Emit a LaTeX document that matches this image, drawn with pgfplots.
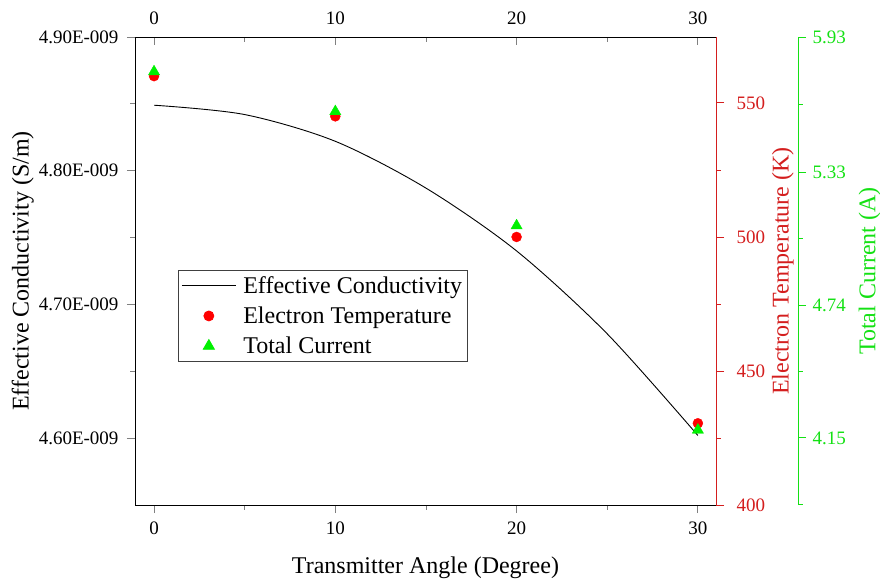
\documentclass[border=0pt]{standalone}
\usepackage{fontspec}
\setmainfont{Liberation Serif}
\usepackage{pgfplots}
\pgfplotsset{compat=1.18}
\definecolor{axred}{RGB}{212,30,30}
\definecolor{axgreen}{RGB}{20,225,20}
\definecolor{mkred}{RGB}{255,0,0}
\definecolor{mkgreen}{RGB}{0,240,0}

\pgfplotsset{
  frame/.style={
    scale only axis, width=581pt, height=468pt,
    xmin=-1.05, xmax=31,
    anchor=south west,
    scaled ticks=false,
    /pgf/number format/assume math mode=true,
    tick label style={font=\fontsize{19}{23}\selectfont},
    label style={font=\fontsize{24}{28}\selectfont},
    major tick length=8pt, minor tick length=4.5pt,
    tick style={line width=0.9pt},
    axis line style={line width=1pt},
    clip=false,
  },
}

\begin{document}
\begin{tikzpicture}
\useasboundingbox (0,0) rectangle (880pt,-584pt);

% left axis, bottom axis, conductivity curve
\begin{axis}[frame, at={(135pt,-505pt)},
  axis x line*=bottom, axis y line*=left,
  tick align=outside,
  xtick={0,10,20,30}, minor xtick={5,15,25},
  xticklabel style={yshift=-5pt},
  ymin=4.55e-9, ymax=4.90e-9,
  ytick={4.6e-9,4.7e-9,4.8e-9,4.9e-9},
  yticklabels={4.60E-009,4.70E-009,4.80E-009,4.90E-009},
  yticklabel style={xshift=-5pt},
  minor ytick={4.65e-9,4.75e-9,4.85e-9},
  xlabel={Transmitter Angle (Degree)},
  xlabel style={yshift=-16pt},
  ylabel={Effective Conductivity (S/m)},
  ylabel style={yshift=-2pt},
]
\addplot[black, line width=0.9pt, smooth, no marks] coordinates {
  (0,4.849e-9) (5,4.842e-9) (10,4.822e-9) (15,4.787e-9)
  (20,4.740e-9) (25,4.678e-9) (30,4.602e-9)};
\end{axis}

% red right axis, top axis, electron temperature
\begin{axis}[frame, at={(135pt,-505pt)},
  axis x line*=top, axis y line*=right,
  xtick align=inside, ytick align=outside,
  xtick={0,10,20,30}, minor xtick={5,15,25},
  xticklabel style={yshift=9pt},
  ymin=400, ymax=574.6,
  ytick={400,450,500,550}, minor ytick={425,475,525},
  y axis line style={axred},
  ytick style={axred},
  yticklabel style={axred, xshift=9pt},
  ylabel={Electron Temperature (K)},
  ylabel style={axred},
]
\addplot[only marks, mark=*, mark size=5pt, mkred] coordinates {
  (0,560) (10,545) (20,500) (30,430.5)};
\end{axis}

% total current data + legend
\begin{axis}[frame, at={(135pt,-505pt)},
  hide axis,
  ymin=3.852, ymax=5.93,
  legend style={at={(axis description cs:0.074,0.502)}, anchor=north west,
    draw=black!75, fill=white, line width=0.8pt,
    font=\fontsize{24}{29}\selectfont, inner xsep=3pt, inner ysep=4pt,
    row sep=8pt, column sep=5pt},
  legend cell align=left,
  legend image code/.code={\draw[mark repeat=2,mark phase=2,#1]
    plot coordinates {(0pt,0pt) (27pt,0pt) (54pt,0pt)};},
]
\addlegendimage{black, line width=0.9pt, no marks}
\addlegendentry{Effective Conductivity}
\addlegendimage{only marks, mark=*, mark size=5pt, mkred}
\addlegendentry{Electron Temperature}
\addplot[only marks, mark=triangle*, mark size=6.5pt, mkgreen] coordinates {
  (0,5.776) (10,5.599) (20,5.092) (30,4.185)};
\addlegendentry{Total Current}
\end{axis}

% green offset axis
\begin{axis}[frame, at={(217pt,-505pt)},
  axis x line=none, axis y line*=right,
  ytick align=outside,
  ymin=3.852, ymax=5.93,
  ytick={4.15,4.74,5.33,5.93},
  yticklabels={4.15,4.74,5.33,5.93},
  minor ytick={3.855,4.445,5.035,5.63},
  y axis line style={axgreen},
  ytick style={axgreen},
  yticklabel style={axgreen, xshift=3pt},
  ylabel={Total Current (A)},
  ylabel style={axgreen, yshift=-6pt},
]
\addplot[draw=none] coordinates {(0,4) (30,5)};
\end{axis}
\end{tikzpicture}
\end{document}
